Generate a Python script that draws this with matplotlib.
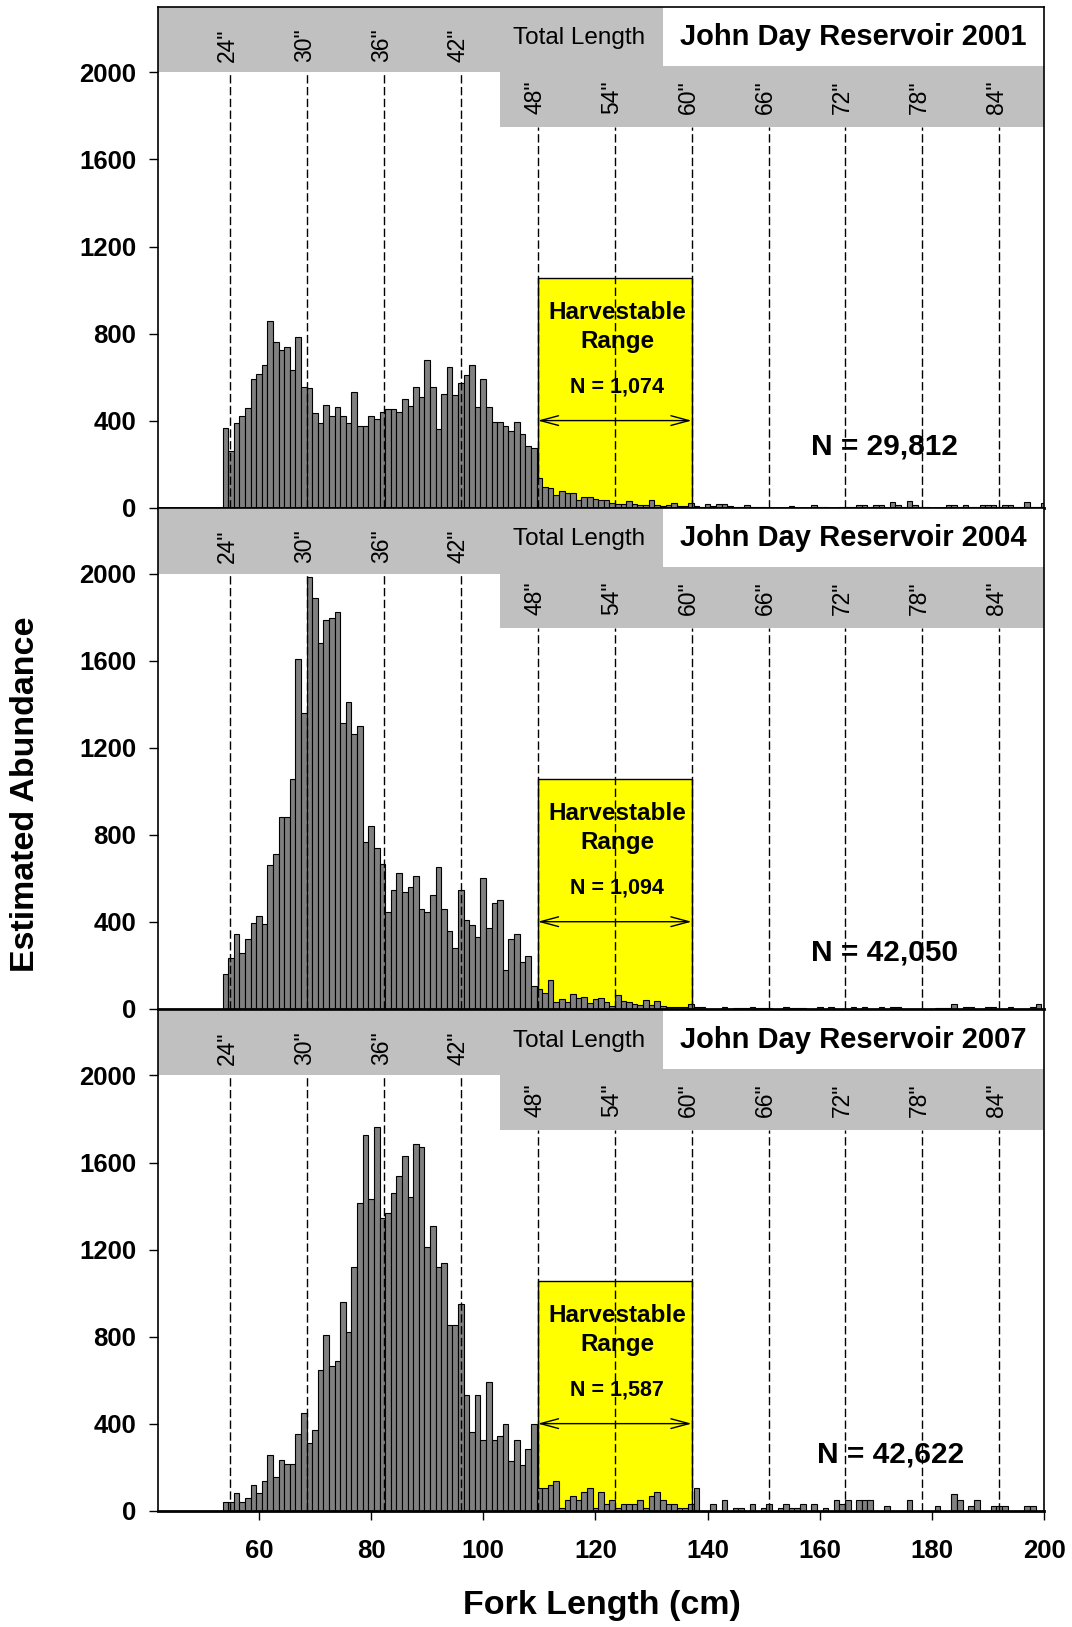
import matplotlib.pyplot as plt
from matplotlib.patches import Rectangle

plt.rcParams['font.family'] = ['Liberation Sans', 'DejaVu Sans']

# fork length bins (cm), 1 cm wide, 54..200
fork_len = list(range(54, 201))

abund_2001 = [
    365, 260, 391, 420, 458, 591, 613, 656, 856, 760,      # 54-63
    723, 737, 633, 783, 556, 552, 435, 389, 470, 423,      # 64-73
    464, 420, 389, 533, 377, 377, 423, 408, 441, 452,      # 74-83
    452, 441, 498, 469, 555, 510, 677, 555, 360, 522,      # 84-93
    648, 516, 573, 608, 654, 464, 590, 464, 394, 394,      # 94-103
    377, 354, 392, 340, 285, 273,                          # 104-109
    135, 93, 89, 58, 78, 69, 69, 34, 49, 50,               # 110-119
    38, 33, 34, 21, 15, 18, 29, 15, 11, 11,                # 120-129
    34, 11, 8, 12, 23, 6, 6, 23,                           # 130-137
    9, 5, 15, 9, 18, 17, 9, 5, 3, 14,                      # 138-147
    3, 3, 3, 0, 0, 0, 0, 8, 0, 0,                          # 148-157
    0, 14, 5, 3, 0, 0, 3, 5, 3, 14,                        # 158-167
    14, 3, 14, 14, 0, 25, 14, 5, 32, 14,                   # 168-177
    3, 5, 0, 0, 0, 14, 14, 3, 14, 3,                       # 178-187
    3, 11, 11, 11, 3, 14, 14, 3, 5, 25,                    # 188-197
    3, 3, 21,                                              # 198-200
]

abund_2004 = [
    158, 231, 342, 254, 319, 392, 427, 391, 662, 709,      # 54-63
    881, 881, 1054, 1606, 1359, 1986, 1886, 1682, 1785, 1797,
    1822, 1311, 1411, 1262, 1299, 765, 841, 737, 663, 446,
    547, 624, 536, 559, 611, 458, 446, 522, 650, 458,
    357, 280, 547, 409, 383, 331, 599, 369, 484, 498,
    178, 320, 343, 216, 242, 104,
    92, 72, 132, 32, 44, 32, 69, 49, 55, 26,               # 110-119
    44, 51, 32, 14, 63, 34, 32, 20, 18, 41,
    17, 35, 12, 8, 8, 10, 10, 23,
    8, 8, 0, 0, 0, 8, 0, 5, 5, 5,                          # 138-147
    8, 5, 5, 5, 0, 0, 8, 5, 5, 5,
    0, 0, 8, 0, 8, 0, 0, 0, 8, 0,
    8, 0, 0, 8, 0, 8, 8, 0, 0, 0,
    0, 0, 0, 5, 5, 5, 21, 0, 8, 8,
    0, 0, 8, 8, 0, 0, 8, 0, 0, 0,
    8, 21, 0,
]

abund_2007 = [
    40, 40, 80, 40, 58, 118, 80, 136, 256, 156,            # 54-63
    233, 214, 214, 351, 447, 313, 372, 647, 806, 666,
    686, 961, 823, 1118, 1413, 1725, 1431, 1765, 1347, 1367,
    1460, 1538, 1632, 1440, 1687, 1670, 1213, 1308, 1118, 1137,
    855, 855, 948, 530, 360, 530, 323, 590, 323, 342,
    397, 227, 323, 210, 285, 397,
    103, 103, 120, 136, 12, 49, 66, 49, 86, 103,           # 110-119
    12, 86, 31, 49, 12, 31, 31, 31, 49, 12,
    66, 86, 49, 31, 31, 12, 12, 31,
    103, 0, 0, 31, 0, 49, 0, 12, 12, 0,                   # 138-147
    31, 0, 12, 31, 0, 12, 31, 12, 12, 31,
    0, 31, 0, 12, 0, 49, 31, 49, 0, 49,
    49, 49, 0, 0, 23, 0, 0, 0, 49, 0,
    0, 0, 0, 23, 0, 0, 78, 49, 0, 23,
    49, 0, 0, 23, 23, 23, 0, 0, 0, 23,
    23, 0, 0,
]

years = ['2001', '2004', '2007']
harvest_n = ['1,074', '1,094', '1,587']
total_n = ['29,812', '42,050', '42,622']
series = [abund_2001, abund_2004, abund_2007]

# total length marks in inches; fork length taken as 0.9 x total length
tl_inches = [24, 30, 36, 42, 48, 54, 60, 66, 72, 78, 84]
tl_cm = [0.9 * i * 2.54 for i in tl_inches]
h_lo, h_hi = tl_cm[4], tl_cm[6]   # 48" to 60"

gray = '#c0c0c0'
fig = plt.figure(figsize=(10.72, 16.27), dpi=100)
left, width, height = 0.1474, 0.8265, 0.3076
bottoms = [0.6880, 0.3800, 0.0715]
n_x = [158.5, 158.5, 159.6]
n_y = [245, 220, 220]

for k in range(3):
    ax = fig.add_axes([left, bottoms[k], width, height])
    ax.set_xlim(42, 200)
    ax.set_ylim(0, 2300)

    # header bands
    ax.add_patch(Rectangle((42, 2000), 132 - 42, 300, fc=gray, ec='none', zorder=1))
    ax.add_patch(Rectangle((103, 1750), 200 - 103, 280, fc=gray, ec='none', zorder=1))

    # harvestable slot
    ax.add_patch(Rectangle((h_lo, 0), h_hi - h_lo, 1055, fc='#ffff00', ec='black',
                           lw=1.0, zorder=2))

    ax.bar(fork_len, series[k], width=1.0, color='#808080', edgecolor='black',
           linewidth=0.8, zorder=3)

    for inch, x in zip(tl_inches, tl_cm):
        top = 2000 if inch <= 42 else 1750
        ax.plot([x, x], [0, top], color='black', lw=1.0, ls=(0, (6, 2.5)), zorder=4)
        ylab = 2125 if inch <= 42 else 1885
        ax.text(x - 0.5, ylab, f'{inch}"', rotation=90, ha='center', va='center',
                fontsize=16.5, zorder=5)

    ax.text(117, 2130, 'Total Length', ha='center', va='baseline', fontsize=17.5, zorder=5)
    ax.text(166, 2126, f'John Day Reservoir {years[k]}', ha='center', va='baseline',
            fontsize=21, fontweight='bold', zorder=5)

    xm = (h_lo + h_hi) / 2 + 0.4
    ax.text(xm, 895, 'Harvestable', ha='center', va='center', fontsize=17.5,
            fontweight='bold', zorder=5)
    ax.text(xm, 765, 'Range', ha='center', va='center', fontsize=17.5,
            fontweight='bold', zorder=5)
    ax.text(xm, 555, f'N = {harvest_n[k]}', ha='center', va='center', fontsize=15.5,
            fontweight='bold', zorder=5)
    ax.annotate('', xy=(h_lo, 400), xytext=(h_hi, 400), zorder=5,
                arrowprops=dict(arrowstyle='<->,head_length=1.3,head_width=0.35',
                                lw=1.0, color='black', shrinkA=0, shrinkB=0))

    ax.text(n_x[k], n_y[k], f'N = {total_n[k]}', ha='left', va='baseline',
            fontsize=21.5, fontweight='bold', zorder=5)

    ax.set_yticks(range(0, 2001, 400))
    ax.set_yticklabels([str(v) for v in range(0, 2001, 400)], fontsize=18.5,
                       fontweight='bold')
    ax.tick_params(axis='y', direction='out', length=6.5, width=1.0, pad=9)
    for s in ax.spines.values():
        s.set_linewidth(1.2)
        s.set_zorder(6)
    ax.spines['bottom'].set_linewidth(2.0)

    if k < 2:
        ax.set_xticks([])
    else:
        ax.set_xticks(range(60, 201, 20))
        ax.set_xticklabels([str(v) for v in range(60, 201, 20)], fontsize=18.5,
                           fontweight='bold')
        ax.tick_params(axis='x', direction='out', length=6.5, width=1.0, pad=14)

fig.text(0.024, 0.512, 'Estimated Abundance', rotation=90, ha='center', va='center',
         fontsize=24.5, fontweight='bold')
fig.text(0.5616, 0.0132, 'Fork Length (cm)', ha='center', va='center',
         fontsize=24.5, fontweight='bold')

fig.savefig('out.png', dpi=100)
